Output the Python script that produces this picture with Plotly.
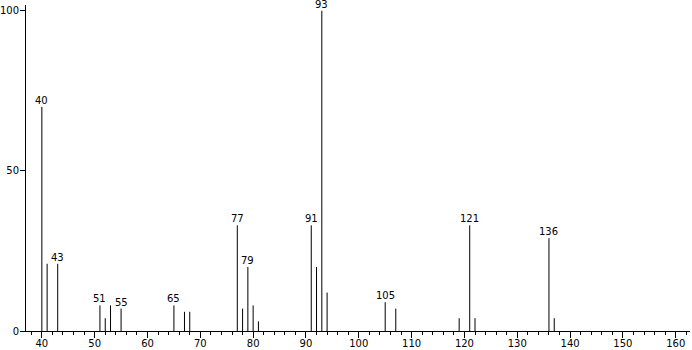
import plotly.graph_objects as go

mz = [40, 41, 43, 51, 52, 53, 55, 65, 67, 68, 77, 78, 79, 80, 81,
      91, 92, 93, 94, 105, 107, 119, 121, 122, 136, 137]
intensity = [70, 21, 21, 8, 4, 8, 7, 8, 6, 6, 33, 7, 20, 8, 3,
             33, 20, 100, 12, 9, 7, 4, 33, 4, 29, 4]
labeled = [40, 43, 51, 55, 65, 77, 79, 91, 93, 105, 121, 136]

xs, ys = [], []
for m, v in zip(mz, intensity):
    xs += [m, m, None]
    ys += [0, v, None]

fig = go.Figure()
fig.add_trace(go.Scatter(x=xs, y=ys, mode="lines",
                         line=dict(color="black", width=1),
                         hoverinfo="skip", showlegend=False))

font = dict(family="DejaVu Sans", size=10, color="black")
for m, v in zip(mz, intensity):
    if m in labeled:
        fig.add_annotation(x=m, y=v, text=str(m), showarrow=False,
                           yanchor="bottom", yshift=0, borderpad=0,
                           font=font)

fig.update_layout(
    width=692, height=350,
    margin=dict(l=26, r=2, t=5, b=19),
    paper_bgcolor="white", plot_bgcolor="white",
    font=font,
    showlegend=False,
)
fig.update_xaxes(range=[37, 162.7], showgrid=False, zeroline=False,
                 automargin=False,
                 showline=True, linecolor="black", linewidth=1,
                 ticks="outside", ticklen=6, tickcolor="black",
                 ticklabelstandoff=-3,
                 tick0=0, dtick=10, tickfont=font,
                 minor=dict(ticks="outside", ticklen=3, dtick=2,
                            tick0=0, tickcolor="black", showgrid=False))
fig.update_yaxes(range=[0, 101.8], showgrid=False, zeroline=False,
                 automargin=False,
                 showline=True, linecolor="black", linewidth=1,
                 ticks="outside", ticklen=5, tickcolor="black",
                 ticklabelstandoff=-1,
                 tickvals=[0, 50, 100], tickfont=font)

fig.write_html("out.html")
